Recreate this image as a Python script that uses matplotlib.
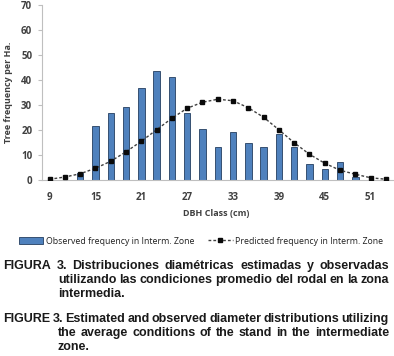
import matplotlib
matplotlib.use("Agg")
import matplotlib.pyplot as plt
from matplotlib.lines import Line2D
from matplotlib.patches import Patch

classes = [9, 11, 13, 15, 17, 19, 21, 23, 25, 27, 29, 31, 33, 35, 37, 39, 41, 43, 45, 47, 49, 51, 53]
observed = [0, 0, 2.9, 21.6, 27, 29.3, 37, 43.5, 41.2, 26.9, 20.3, 13.2, 19.2, 15, 13.2, 18.3, 13.2, 6.3, 4.3, 7.1, 1.3, 0, 0]
predicted = [0.3, 1.2, 2.5, 4.7, 7.5, 11.3, 15.5, 20.1, 24.7, 28.7, 31.1, 32.3, 31.7, 28.9, 25.1, 20.1, 14.9, 10.3, 6.7, 3.9, 2.3, 0.9, 0.3]
yticks = [0, 10, 20, 30, 40, 50, 60, 70]
xlabel = "DBH Class (cm)"
ylabel = "Tree frequency per Ha."
legend_labels = ["Observed frequency in Interm. Zone", "Predicted frequency in Interm. Zone"]
caption_es = ["FIGURA 3. Distribuciones diamétricas estimadas y observadas",
              "utilizando las condiciones promedio del rodal en la zona", "intermedia."]
caption_en = ["FIGURE 3. Estimated and observed diameter distributions utilizing",
              "the average conditions of the stand in the intermediate", "zone."]

W, H = 394, 356
fig = plt.figure(figsize=(W / 100, H / 100), dpi=100)
ax = fig.add_axes([42 / W, 1 - 180 / H, (393.5 - 42) / W, (180 - 5) / H])

pos = list(range(len(classes)))
ax.bar(pos, observed, width=0.42, color="#4F81BD", edgecolor="#243F60", linewidth=0.6, zorder=2)
ax.plot(pos, predicted, linestyle=(0, (2, 1.5)), color="#404040", linewidth=1.0,
        marker="s", markersize=3, markerfacecolor="#0a0a0a", markeredgecolor="#0a0a0a", zorder=3)

ax.set_xlim(-0.5, len(classes) - 0.5)
ax.set_ylim(0, 70)
ax.set_yticks(yticks)
ax.set_xticks(pos[::3])
ax.set_xticklabels([str(c) for c in classes[::3]])
for s in ["top", "right"]:
    ax.spines[s].set_visible(False)
for s in ["left", "bottom"]:
    ax.spines[s].set_color("#BFBFBF")
    ax.spines[s].set_linewidth(0.8)
ax.tick_params(axis="y", length=3, color="#BFBFBF", labelsize=7, labelcolor="#404040", pad=4)
ax.tick_params(axis="x", length=0, labelsize=7, labelcolor="#404040", pad=9)
for lab in ax.get_xticklabels() + ax.get_yticklabels():
    lab.set_fontweight("bold")
    lab.set_family("Open Sans")

fig.text(216 / W, 1 - 213 / H, xlabel, ha="center", va="center", fontsize=6.5,
         fontweight="bold", color="#404040", family="Open Sans")
fig.text(9 / W, 1 - 92 / H, ylabel, ha="center", va="center", rotation=90, fontsize=6.5,
         fontweight="bold", color="#404040", family="Open Sans")

handles = [Patch(facecolor="#4F81BD", edgecolor="#243F60", linewidth=0.6),
           Line2D([], [], linestyle=(0, (2, 1.5)), color="#404040", linewidth=1.0, marker="s",
                  markersize=3, markerfacecolor="#0a0a0a", markeredgecolor="#0a0a0a")]
leg = fig.legend(handles, legend_labels, loc="center", bbox_to_anchor=(201 / W, 1 - 241 / H),
                 ncol=2, frameon=False, handlelength=2.8, handleheight=0.8,
                 columnspacing=1.6, handletextpad=0.3, borderpad=0, borderaxespad=0,
                 prop={"family": "Open Sans", "size": 6.3})
for t in leg.get_texts():
    t.set_color("#202020")

renderer = fig.canvas.get_renderer()
cap_kw = dict(fontsize=9, fontweight="bold", family="Liberation Sans", color="#1a1a1a", va="baseline")


def justify(line, x0, x1, y, justify_it=True):
    words = line.split(" ")
    if not justify_it or len(words) == 1:
        fig.text(x0 / W, 1 - y / H, line, ha="left", **cap_kw)
        return
    texts = [fig.text(0, 0, w, ha="left", **cap_kw) for w in words]
    widths = [t.get_window_extent(renderer).width for t in texts]
    gap = (x1 - x0 - sum(widths)) / (len(words) - 1)
    x = x0
    for t, wd in zip(texts, widths):
        t.set_position((x / W, 1 - y / H))
        x += wd + gap


def caption(lines, ybase):
    justify(lines[0], 3, 389, ybase)
    justify(lines[1], 58, 389, ybase + 14)
    justify(lines[2], 58, 389, ybase + 28, justify_it=False)


caption(caption_es, 269)
caption(caption_en, 322)

fig.savefig("out.png", dpi=100)
